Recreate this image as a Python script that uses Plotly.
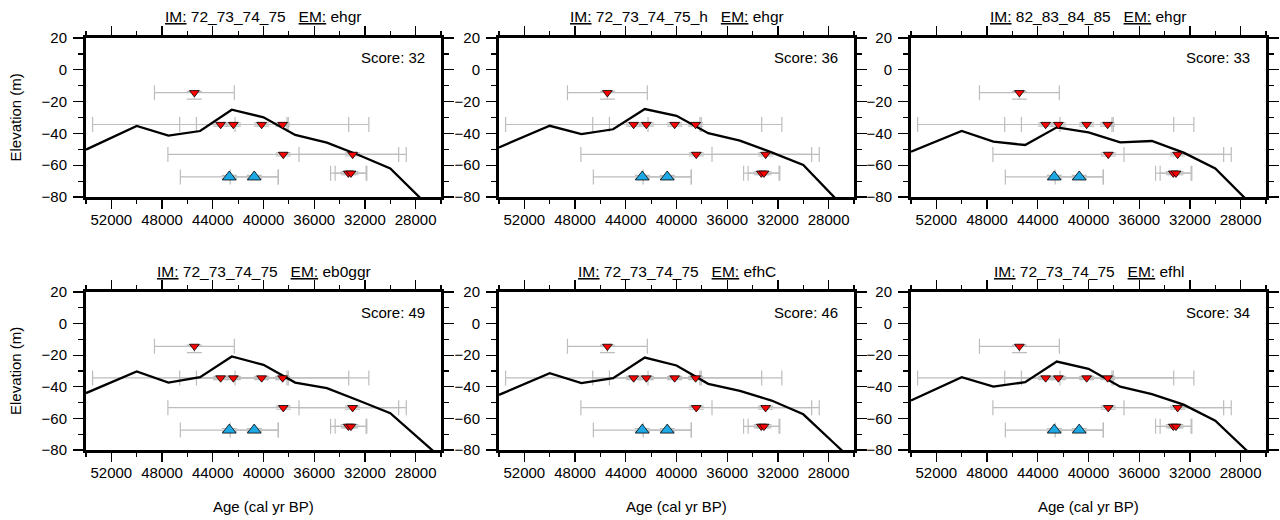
import plotly.graph_objects as go

# ---------------- data ----------------
IM_LABELS = ["72_73_74_75", "72_73_74_75_h", "82_83_84_85", "72_73_74_75", "72_73_74_75", "72_73_74_75"]
EM_LABELS = ["ehgr", "ehgr", "ehgr", "eb0ggr", "efhC", "efhl"]
SCORES = [32, 36, 33, 49, 46, 34]

MODEL_AGE = [54000, 50000, 47500, 45000, 42500, 40000, 37500, 35000, 32500, 30000, 27500, 25000]
MODEL_ELEV = [
    [-50.2, -35.3, -41.4, -38.5, -25.1, -29.9, -41.0, -45.8, -53.6, -62.0, -81.7, -101],
    [-48.8, -35.2, -40.4, -37.4, -24.7, -28.9, -39.9, -44.6, -51.9, -59.9, -80.6, -101],
    [-51.5, -38.5, -45.2, -47.3, -36.2, -39.3, -45.6, -44.8, -52.1, -62.0, -82.0, -101],
    [-44.0, -30.3, -37.3, -33.9, -20.8, -26.1, -37.3, -40.9, -48.7, -56.7, -74.4, -92],
    [-45.1, -31.4, -37.7, -34.5, -21.5, -26.5, -38.1, -42.6, -48.7, -57.4, -76.2, -95],
    [-48.7, -33.9, -39.9, -37.1, -24.0, -28.6, -39.9, -44.7, -51.3, -61.4, -80.5, -100],
]

# upper-limit observations (red inverted triangles)
RED_AGE = [45450, 43380, 42380, 40145, 38490, 38440, 32970, 33310, 33100]
RED_AGE_ERR = [3150, 10100, 4230, 2100, 6800, 9100, 4230, 1400, 1250]
RED_ELEV = [-14.4, -34.4, -34.4, -34.4, -34.4, -53.2, -53.2, -65.0, -65.0]
RED_ELEV_ERR_UP = [0.8, 1.0, 1.0, 1.0, 1.0, 1.0, 1.0, 1.0, 1.0]
RED_ELEV_ERR_DN = [4.0, 1.0, 1.0, 1.0, 1.0, 1.0, 1.0, 1.0, 1.0]

# lower-limit observations (blue triangles)
BLUE_AGE = [42700, 40730]
BLUE_AGE_ERR = [3860, 1900]
BLUE_ELEV = [-67.4, -67.4]
BLUE_ELEV_ERR = [1.0, 1.0]

X_TICKS = [52000, 48000, 44000, 40000, 36000, 32000, 28000]
X_TICK_TEXT = ["52000", "48000", "44000", "40000", "36000", "32000", "28000"]
Y_TICKS = [20, 0, -20, -40, -60, -80]

# ---------------- layout ----------------
W, H = 1280, 520
COL_X = [(86, 441), (499, 854), (911, 1266)]
ROW_Y = [(38, 197), (292, 450)]
FONT = "Liberation Sans, Arial, Helvetica, sans-serif"
ERR_COLOR = "#bdbdbd"
SP = "\u00a0"

fig = go.Figure()
layout = dict(
    width=W, height=H, autosize=False,
    margin=dict(l=0, r=0, t=0, b=0, pad=0, autoexpand=False),
    paper_bgcolor="white", plot_bgcolor="white", showlegend=False,
    font=dict(family=FONT, size=15, color="black"),
)
annotations = []

for i in range(6):
    r, c = divmod(i, 3)
    n = i + 1
    xa = "x" if n == 1 else f"x{n}"
    ya = "y" if n == 1 else f"y{n}"
    x0, x1 = COL_X[c]
    y0, y1 = ROW_Y[r]
    xdom = [x0 / W, x1 / W]
    ydom = [1 - y1 / H, 1 - y0 / H]
    pw, ph = x1 - x0, y1 - y0

    # error bars (drawn under everything else)
    fig.add_trace(go.Scatter(
        x=RED_AGE, y=RED_ELEV, mode="markers", xaxis=xa, yaxis=ya,
        marker=dict(size=1, opacity=0),
        error_x=dict(type="data", array=RED_AGE_ERR, color=ERR_COLOR, thickness=1.2, width=7.5),
        error_y=dict(type="data", array=RED_ELEV_ERR_UP, arrayminus=RED_ELEV_ERR_DN,
                     symmetric=False, color=ERR_COLOR, thickness=1.2, width=7.5),
        hoverinfo="skip",
    ))
    fig.add_trace(go.Scatter(
        x=BLUE_AGE, y=BLUE_ELEV, mode="markers", xaxis=xa, yaxis=ya,
        marker=dict(size=1, opacity=0),
        error_x=dict(type="data", array=BLUE_AGE_ERR, color=ERR_COLOR, thickness=1.2, width=7.5),
        error_y=dict(type="data", array=BLUE_ELEV_ERR, color=ERR_COLOR, thickness=1.2, width=7.5),
        hoverinfo="skip",
    ))
    # model curve
    fig.add_trace(go.Scatter(
        x=MODEL_AGE, y=MODEL_ELEV[i], mode="lines", xaxis=xa, yaxis=ya,
        line=dict(color="black", width=2.3), hoverinfo="skip",
    ))
    # markers
    fig.add_trace(go.Scatter(
        x=RED_AGE, y=RED_ELEV, mode="markers", xaxis=xa, yaxis=ya,
        marker=dict(symbol="triangle-down", size=8.5, color="#ff0000",
                    line=dict(color="black", width=0.8)),
    ))
    fig.add_trace(go.Scatter(
        x=BLUE_AGE, y=BLUE_ELEV, mode="markers", xaxis=xa, yaxis=ya,
        marker=dict(symbol="triangle-up", size=12, color="#1ea9e4",
                    line=dict(color="black", width=0.8)),
    ))

    layout["xaxis" if n == 1 else f"xaxis{n}"] = dict(
        domain=xdom, anchor=ya, range=[54000, 26000], autorange=False, automargin=False,
        showgrid=False, zeroline=False, showline=True, linecolor="black", linewidth=3,
        mirror="allticks", ticks="outside", ticklen=9, tickwidth=1.2, tickcolor="black",
        tickvals=X_TICKS, ticktext=X_TICK_TEXT, tickfont=dict(size=15), ticklabelstandoff=-2,
        minor=dict(ticks="outside", dtick=2000, tick0=0, ticklen=4, tickwidth=1.2, tickcolor="black", showgrid=False),
        fixedrange=True,
    )
    layout["yaxis" if n == 1 else f"yaxis{n}"] = dict(
        domain=ydom, anchor=xa, range=[-80, 20], autorange=False, automargin=False,
        showgrid=False, zeroline=False, showline=True, linecolor="black", linewidth=3,
        mirror="allticks", ticks="outside", ticklen=10, tickwidth=1.2, tickcolor="black",
        tickvals=Y_TICKS, tickfont=dict(size=15), ticklabelstandoff=3,
        minor=dict(ticks="outside", dtick=10, tick0=0, ticklen=5, tickwidth=1.2, tickcolor="black", showgrid=False),
        fixedrange=True,
    )

    # panel title
    annotations.append(dict(
        xref=f"{xa} domain", yref=f"{ya} domain", x=0.5, y=1 + 21 / ph,
        text=f"<u>IM:</u> {IM_LABELS[i]}{SP*3}<u>EM:</u> {EM_LABELS[i]}",
        showarrow=False, xanchor="center", yanchor="middle", font=dict(size=15.5),
    ))
    # score
    annotations.append(dict(
        xref=f"{xa} domain", yref=f"{ya} domain", x=1 - 14 / pw, y=1 - 20 / ph,
        text=f"Score: {SCORES[i]}", showarrow=False, xanchor="right", yanchor="middle",
        font=dict(size=15),
    ))

# axis titles
for r in range(2):
    y0, y1 = ROW_Y[r]
    annotations.append(dict(
        xref="paper", yref="paper", x=15 / W, y=1 - (y0 + y1) / 2 / H,
        text="Elevation (m)", textangle=-90, showarrow=False,
        xanchor="center", yanchor="middle", font=dict(size=15),
    ))
for c in range(3):
    x0, x1 = COL_X[c]
    annotations.append(dict(
        xref="paper", yref="paper", x=(x0 + x1) / 2 / W, y=1 - 506 / H,
        text="Age (cal yr BP)", showarrow=False,
        xanchor="center", yanchor="middle", font=dict(size=15),
    ))

layout["annotations"] = annotations
fig.update_layout(**layout)
fig.write_html(
    "out.html",
    config={"displayModeBar": False, "staticPlot": True},
    post_script="document.body.style.margin='0';document.body.style.overflow='hidden';",
)
